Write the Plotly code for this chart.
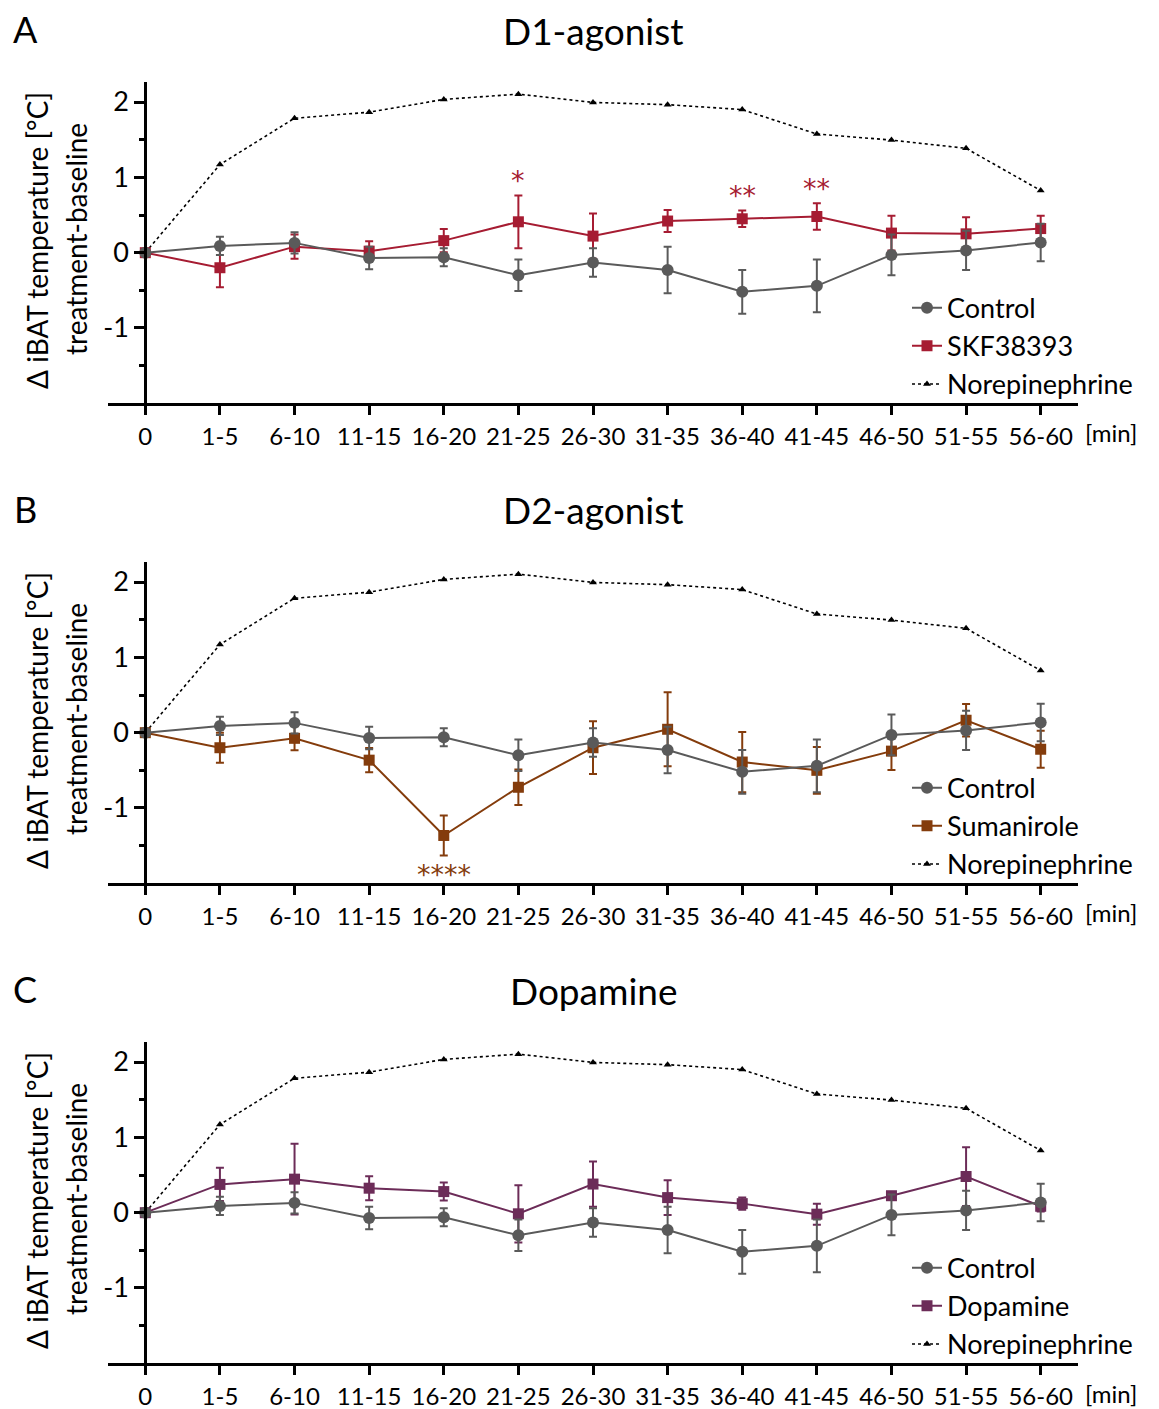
import plotly.graph_objects as go

# ---------------- data ----------------
categories = ["0", "1-5", "6-10", "11-15", "16-20", "21-25", "26-30",
              "31-35", "36-40", "41-45", "46-50", "51-55", "56-60"]

norepinephrine = [0, 1.17, 1.785, 1.865, 2.035, 2.105, 1.995, 1.965, 1.90, 1.575, 1.495, 1.385, 0.825]

control = [0, 0.09, 0.13, -0.07, -0.06, -0.30, -0.13, -0.23, -0.52, -0.44, -0.03, 0.03, 0.135]
control_err = [0, 0.12, 0.14, 0.15, 0.12, 0.21, 0.19, 0.31, 0.29, 0.35, 0.27, 0.26, 0.25]

skf38393 = [0, -0.20, 0.08, 0.02, 0.16, 0.41, 0.22, 0.42, 0.45, 0.48, 0.26, 0.25, 0.32]
skf38393_err = [0, 0.26, 0.16, 0.13, 0.155, 0.35, 0.30, 0.145, 0.11, 0.175, 0.23, 0.22, 0.17]
skf38393_stars = {"21-25": "*", "36-40": "**", "41-45": "**"}

sumanirole = [0, -0.20, -0.075, -0.365, -1.365, -0.725, -0.20, 0.045, -0.39, -0.50, -0.245, 0.165, -0.22]
sumanirole_err = [0, 0.20, 0.16, 0.16, 0.265, 0.235, 0.35, 0.49, 0.40, 0.31, 0.25, 0.215, 0.245]
sumanirole_stars = {"16-20": "****"}

dopamine = [0, 0.375, 0.445, 0.325, 0.28, -0.015, 0.38, 0.20, 0.12, -0.02, 0.225, 0.48, 0.085]
dopamine_err = [0, 0.22, 0.47, 0.16, 0.12, 0.38, 0.30, 0.23, 0.08, 0.14, 0.04, 0.39, 0.07]
dopamine_stars = {}

panel_letters = ["A", "B", "C"]
panel_titles = ["D1-agonist", "D2-agonist", "Dopamine"]
treatment_names = ["SKF38393", "Sumanirole", "Dopamine"]
y_tick_vals = [-1, 0, 1, 2]
y_minor_vals = [-1.5, -0.5, 0.5, 1.5]

# ---------------- style ----------------
OFF = 8                      # default page body margin
W, H = 1159 - OFF, 1409 - OFF
FONT = "Lato"
GRAY = "#5a5a5a"
colors = ["#A61C32", "#843C0C", "#6C2C58"]
treat_vals = [skf38393, sumanirole, dopamine]
treat_errs = [skf38393_err, sumanirole_err, dopamine_err]
treat_stars = [skf38393_stars, sumanirole_stars, dopamine_stars]


def px_x(x):
    return (x - OFF) / W


def px_y(y):
    return 1 - (y - OFF) / H


x_px = (108, 1078)
x_dom = [px_x(x_px[0]), px_x(x_px[1])]
yaxis_pos = px_x(x_px[0] + 0.5 * (x_px[1] - x_px[0]) / 13)
panel_px = [(81.7, 403.3), (561.7, 883.3), (1041.7, 1363.3)]
y_range = [-2, 2.27]

fig = go.Figure()
annotations = []


def ann(text, xp, yp, size, angle=0, color="black"):
    return dict(text=text, x=px_x(xp), y=px_y(yp), xref="paper", yref="paper",
                xanchor="center", yanchor="middle", textangle=angle, showarrow=False,
                font=dict(family=FONT, size=size, color=color))


for i in range(3):
    sfx = "" if i == 0 else str(i + 1)
    xa, ya = "x" + sfx, "y" + sfx
    leg = "legend" if i == 0 else "legend" + str(i + 1)
    col = colors[i]

    fig.add_trace(go.Scatter(
        x=categories, y=norepinephrine, name="Norepinephrine", mode="lines+markers",
        line=dict(color="black", width=1.6, dash="dot"),
        marker=dict(symbol="triangle-up", size=7, color="black"),
        xaxis=xa, yaxis=ya, legend=leg, legendrank=3, cliponaxis=False))
    fig.add_trace(go.Scatter(
        x=categories, y=treat_vals[i], name=treatment_names[i], mode="lines+markers",
        line=dict(color=col, width=2),
        marker=dict(symbol="square", size=11, color=col),
        error_y=dict(type="data", array=treat_errs[i], color=col, thickness=2, width=4),
        xaxis=xa, yaxis=ya, legend=leg, legendrank=2, cliponaxis=False))
    fig.add_trace(go.Scatter(
        x=categories, y=control, name="Control", mode="lines+markers",
        line=dict(color=GRAY, width=2),
        marker=dict(symbol="circle", size=12, color=GRAY),
        error_y=dict(type="data", array=control_err, color=GRAY, thickness=2, width=4),
        xaxis=xa, yaxis=ya, legend=leg, legendrank=1, cliponaxis=False))

    top_px, bot_px = panel_px[i]
    y_dom = [px_y(bot_px), px_y(top_px)]

    fig.update_layout(**{
        "xaxis" + sfx: dict(
            domain=x_dom, anchor=ya, type="category", categoryorder="array",
            categoryarray=categories, range=[-0.5, 12.5], automargin=False,
            showline=True, linecolor="black", linewidth=3,
            ticks="outside", ticklen=9, tickwidth=2.5, tickcolor="black",
            showgrid=False, zeroline=False, ticklabelstandoff=1,
            tickfont=dict(family=FONT, size=24, color="black")),
        "yaxis" + sfx: dict(
            domain=y_dom, anchor="free", position=yaxis_pos, range=y_range,
            automargin=False,
            showline=True, linecolor="black", linewidth=3,
            ticks="outside", ticklen=10, tickwidth=2.5, tickcolor="black",
            tickvals=y_tick_vals, ticktext=[str(v) for v in y_tick_vals],
            minor=dict(tickvals=y_minor_vals, ticks="outside", ticklen=5,
                       tickwidth=2.5, tickcolor="black"),
            showgrid=False, zeroline=False,
            tickfont=dict(family=FONT, size=27, color="black")),
        leg: dict(
            x=px_x(907), xanchor="left", y=px_y(top_px + 202), yanchor="top",
            bgcolor="rgba(0,0,0,0)", font=dict(family=FONT, size=27, color="black"),
            traceorder="normal", itemwidth=30, tracegroupgap=0),
    })

    offset = i * 480
    annotations += [
        ann(panel_letters[i], 25, 29 + offset, 36),
        ann(panel_titles[i], 593, 30 + offset, 37),
        ann("\u0394 iBAT temperature [°C]", 37, 241 + offset, 28, angle=-90),
        ann("treatment-baseline", 76, 239 + offset, 28, angle=-90),
        ann("[min]", 1111, 433 + offset, 24),
    ]
    for cat, lab in treat_stars[i].items():
        k = categories.index(cat)
        v, e = treat_vals[i][k], treat_errs[i][k]
        if v >= 0:
            annotations.append(dict(text=lab, x=cat, y=v + e, xref=xa, yref=ya,
                                    xanchor="center", yanchor="bottom", yshift=-3,
                                    showarrow=False,
                                    font=dict(family="DejaVu Sans", size=27, color=col)))
        else:
            annotations.append(dict(text=lab, x=cat, y=v - e, xref=xa, yref=ya,
                                    xanchor="center", yanchor="top", yshift=-2,
                                    showarrow=False,
                                    font=dict(family="DejaVu Sans", size=27, color=col)))

fig.update_layout(
    width=W, height=H, margin=dict(l=0, r=0, t=0, b=0, autoexpand=False),
    paper_bgcolor="white", plot_bgcolor="white",
    annotations=annotations, font=dict(family=FONT, color="black"),
)

fig.write_html("out.html")
